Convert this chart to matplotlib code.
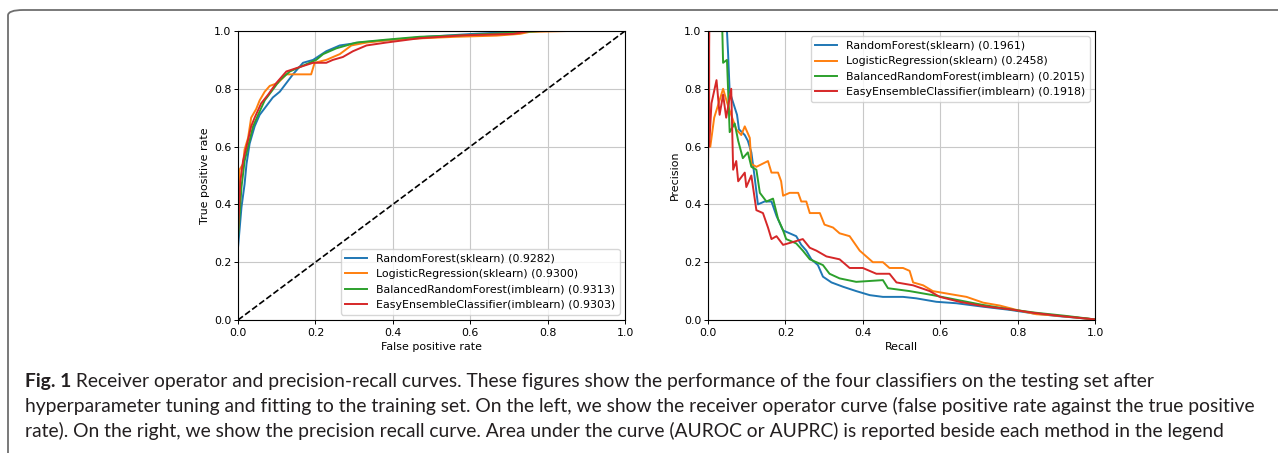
import matplotlib
matplotlib.use("Agg")
import matplotlib.pyplot as plt
from matplotlib.patches import FancyBboxPatch

# ---- ROC curves (fpr, tpr) ----
roc_rf_fpr = [0.0, 0.0, 0.009, 0.017, 0.022, 0.030, 0.043, 0.056, 0.073, 0.090, 0.108, 0.125,
              0.142, 0.168, 0.194, 0.228, 0.263, 0.314, 0.400, 0.487, 0.607, 0.711, 0.797, 1.0]
roc_rf_tpr = [0.0, 0.25, 0.39, 0.47, 0.54, 0.61, 0.67, 0.71, 0.74, 0.77, 0.79, 0.82,
              0.85, 0.89, 0.90, 0.93, 0.95, 0.96, 0.97, 0.98, 0.99, 0.997, 1.0, 1.0]

roc_lr_fpr = [0.0, 0.0, 0.004, 0.013, 0.017, 0.026, 0.034, 0.047, 0.056, 0.069, 0.082, 0.103,
              0.125, 0.146, 0.189, 0.198, 0.228, 0.263, 0.293, 0.332, 0.400, 0.478, 0.564,
              0.668, 0.728, 0.754, 0.853, 1.0]
roc_lr_tpr = [0.0, 0.30, 0.52, 0.54, 0.59, 0.63, 0.70, 0.73, 0.76, 0.79, 0.81, 0.82,
              0.85, 0.85, 0.85, 0.89, 0.90, 0.92, 0.95, 0.96, 0.97, 0.975, 0.98,
              0.984, 0.99, 0.997, 1.0, 1.0]

roc_brf_fpr = [0.0, 0.0, 0.009, 0.017, 0.026, 0.039, 0.052, 0.069, 0.086, 0.108, 0.134, 0.168,
               0.202, 0.220, 0.254, 0.306, 0.383, 0.469, 0.573, 0.711, 0.780, 1.0]
roc_brf_tpr = [0.0, 0.28, 0.46, 0.55, 0.60, 0.67, 0.71, 0.76, 0.79, 0.83, 0.86, 0.88,
               0.90, 0.92, 0.94, 0.96, 0.97, 0.98, 0.985, 0.994, 1.0, 1.0]

roc_eec_fpr = [0.0, 0.0, 0.006, 0.013, 0.022, 0.034, 0.043, 0.060, 0.078, 0.099, 0.125, 0.159,
               0.194, 0.228, 0.245, 0.271, 0.297, 0.332, 0.383, 0.469, 0.581, 0.711, 0.754, 1.0]
roc_eec_tpr = [0.0, 0.30, 0.48, 0.55, 0.60, 0.67, 0.70, 0.75, 0.78, 0.82, 0.86, 0.875,
               0.89, 0.89, 0.90, 0.91, 0.93, 0.95, 0.96, 0.975, 0.985, 0.99, 1.0, 1.0]

# ---- Precision-recall curves (recall, precision) ----
pr_rf_rec = [0.049, 0.052, 0.056, 0.075, 0.080, 0.095, 0.103, 0.112, 0.120, 0.129, 0.146, 0.164,
             0.177, 0.194, 0.211, 0.228, 0.241, 0.254, 0.267, 0.284, 0.297, 0.319, 0.349, 0.383,
             0.418, 0.452, 0.504, 0.538, 0.590, 0.642, 0.711, 0.780, 0.840, 0.900, 0.952, 1.0]
pr_rf_prec = [1.0, 0.92, 0.79, 0.71, 0.66, 0.64, 0.62, 0.58, 0.50, 0.40, 0.41, 0.41,
              0.36, 0.31, 0.30, 0.29, 0.26, 0.24, 0.21, 0.19, 0.15, 0.13, 0.115, 0.10,
              0.086, 0.08, 0.08, 0.075, 0.063, 0.058, 0.046, 0.035, 0.023, 0.014, 0.008, 0.002]

pr_lr_rec = [0.006, 0.016, 0.039, 0.052, 0.073, 0.086, 0.095, 0.108, 0.112, 0.125, 0.155, 0.164,
             0.181, 0.189, 0.194, 0.211, 0.233, 0.241, 0.254, 0.263, 0.289, 0.301, 0.323, 0.340,
             0.366, 0.392, 0.409, 0.426, 0.452, 0.469, 0.504, 0.521, 0.530, 0.556, 0.581, 0.624,
             0.668, 0.711, 0.754, 0.797, 0.848, 0.883, 0.926, 1.0]
pr_lr_prec = [0.60, 0.70, 0.80, 0.74, 0.66, 0.64, 0.67, 0.63, 0.54, 0.53, 0.55, 0.51,
              0.51, 0.48, 0.43, 0.44, 0.44, 0.41, 0.41, 0.37, 0.37, 0.33, 0.32, 0.30,
              0.29, 0.24, 0.22, 0.20, 0.20, 0.18, 0.18, 0.17, 0.13, 0.12, 0.10, 0.09,
              0.08, 0.06, 0.05, 0.035, 0.02, 0.017, 0.012, 0.002]

pr_brf_rec = [0.037, 0.039, 0.049, 0.056, 0.069, 0.078, 0.090, 0.103, 0.112, 0.125, 0.134, 0.151,
              0.168, 0.181, 0.194, 0.202, 0.228, 0.245, 0.263, 0.280, 0.297, 0.314, 0.340, 0.383,
              0.452, 0.465, 0.521, 0.581, 0.642, 0.711, 0.780, 0.848, 0.926, 1.0]
pr_brf_prec = [1.0, 0.89, 0.90, 0.65, 0.68, 0.62, 0.56, 0.58, 0.53, 0.52, 0.44, 0.41,
               0.42, 0.35, 0.31, 0.28, 0.265, 0.24, 0.21, 0.20, 0.19, 0.16, 0.144, 0.132,
               0.138, 0.11, 0.10, 0.086, 0.07, 0.052, 0.037, 0.025, 0.014, 0.002]

pr_eec_rec = [0.0, 0.003, 0.003, 0.009, 0.022, 0.030, 0.039, 0.047, 0.060, 0.065, 0.073, 0.078,
              0.095, 0.099, 0.112, 0.125, 0.142, 0.155, 0.164, 0.177, 0.194, 0.220, 0.245, 0.263,
              0.280, 0.306, 0.340, 0.366, 0.400, 0.435, 0.469, 0.487, 0.530, 0.573, 0.599, 0.650,
              0.711, 0.780, 0.840, 0.909, 1.0]
pr_eec_prec = [0.50, 1.0, 0.60, 0.75, 0.83, 0.71, 0.78, 0.70, 0.80, 0.52, 0.55, 0.48,
               0.51, 0.46, 0.50, 0.38, 0.37, 0.32, 0.28, 0.29, 0.26, 0.27, 0.28, 0.25,
               0.24, 0.22, 0.21, 0.18, 0.18, 0.16, 0.16, 0.13, 0.12, 0.10, 0.08, 0.063,
               0.048, 0.037, 0.025, 0.014, 0.002]

roc_labels = ["RandomForest(sklearn) (0.9282)",
              "LogisticRegression(sklearn) (0.9300)",
              "BalancedRandomForest(imblearn) (0.9313)",
              "EasyEnsembleClassifier(imblearn) (0.9303)"]
pr_labels = ["RandomForest(sklearn) (0.1961)",
             "LogisticRegression(sklearn) (0.2458)",
             "BalancedRandomForest(imblearn) (0.2015)",
             "EasyEnsembleClassifier(imblearn) (0.1918)"]
colors = ["#1f77b4", "#ff7f0e", "#2ca02c", "#d62728"]

caption_bold = "Fig. 1"
caption_lines = [
    " Receiver operator and precision-recall curves. These figures show the performance of the four classifiers on the testing set after",
    "hyperparameter tuning and fitting to the training set. On the left, we show the receiver operator curve (false positive rate against the true positive",
    "rate). On the right, we show the precision recall curve. Area under the curve (AUROC or AUPRC) is reported beside each method in the legend",
]

FS = 7.9
plt.rcParams.update({
    "font.size": FS,
    "axes.linewidth": 0.8,
    "xtick.major.size": 2.8,
    "ytick.major.size": 2.8,
    "xtick.major.width": 0.7,
    "ytick.major.width": 0.7,
    "lines.linewidth": 1.4,
})

W, H = 1278, 453
fig = plt.figure(figsize=(W / 100, H / 100), dpi=100)

ax1 = fig.add_axes([238 / W, 1 - 320 / H, 387 / W, 289 / H])
ax2 = fig.add_axes([708 / W, 1 - 320 / H, 387 / W, 289 / H])

roc = [(roc_rf_fpr, roc_rf_tpr), (roc_lr_fpr, roc_lr_tpr),
       (roc_brf_fpr, roc_brf_tpr), (roc_eec_fpr, roc_eec_tpr)]
for (x, y), c, lab in zip(roc, colors, roc_labels):
    ax1.plot(x, y, color=c, label=lab)
ax1.plot([0, 1], [0, 1], "k--", lw=1.2)
ax1.set_xlim(0, 1)
ax1.set_ylim(0, 1)
ax1.set_xlabel("False positive rate", labelpad=3)
ax1.set_ylabel("True positive rate", labelpad=3)
ax1.grid(True, lw=0.8, color="#c8c8c8")
ax1.legend(loc="lower right", borderpad=0.4, handlelength=2.0)

pr = [(pr_rf_rec, pr_rf_prec), (pr_lr_rec, pr_lr_prec),
      (pr_brf_rec, pr_brf_prec), (pr_eec_rec, pr_eec_prec)]
for (x, y), c, lab in zip(pr, colors, pr_labels):
    ax2.plot(x, y, color=c, label=lab)
ax2.set_xlim(0, 1)
ax2.set_ylim(0, 1)
ax2.set_xlabel("Recall", labelpad=3)
ax2.set_ylabel("Precision", labelpad=3)
ax2.grid(True, lw=0.8, color="#c8c8c8")
ax2.legend(loc="upper right", borderpad=0.4, handlelength=2.0)

for ax in (ax1, ax2):
    ax.set_xticks([0, 0.2, 0.4, 0.6, 0.8, 1.0])
    ax.set_yticks([0, 0.2, 0.4, 0.6, 0.8, 1.0])
    ax.tick_params(axis="x", pad=3)
    ax.tick_params(axis="y", pad=2)

# frame around the figure panel
frame = FancyBboxPatch((8 / W, -0.2), 1.2, (H - 10) / H + 0.2,
                       boxstyle="round,pad=0,rounding_size=0.012",
                       transform=fig.transFigure, fill=False,
                       edgecolor="#6e6e6e", lw=1.3)
fig.add_artist(frame)

# caption, sized so the second line spans the same width as in the figure
cap_family = ["Lato", "DejaVu Sans"]
renderer = fig.canvas.get_renderer()
probe = fig.text(0, 0, caption_lines[1], fontsize=12, family=cap_family)
w = probe.get_window_extent(renderer).width
probe.remove()
cap_fs = 12 * 1230 / w

x0 = 25 / W
baselines = [387, 412, 437]
t = fig.text(x0, 1 - baselines[0] / H, caption_bold, fontsize=cap_fs, weight="bold",
             family=cap_family, va="baseline", color="#231f20")
bw = t.get_window_extent(renderer).width
fig.text(x0 + bw / W, 1 - baselines[0] / H, caption_lines[0], fontsize=cap_fs,
         family=cap_family, va="baseline", color="#231f20")
for line, b in zip(caption_lines[1:], baselines[1:]):
    fig.text(x0, 1 - b / H, line, fontsize=cap_fs, family=cap_family,
             va="baseline", color="#231f20")

fig.savefig("out.png", dpi=100)
plt.close(fig)
